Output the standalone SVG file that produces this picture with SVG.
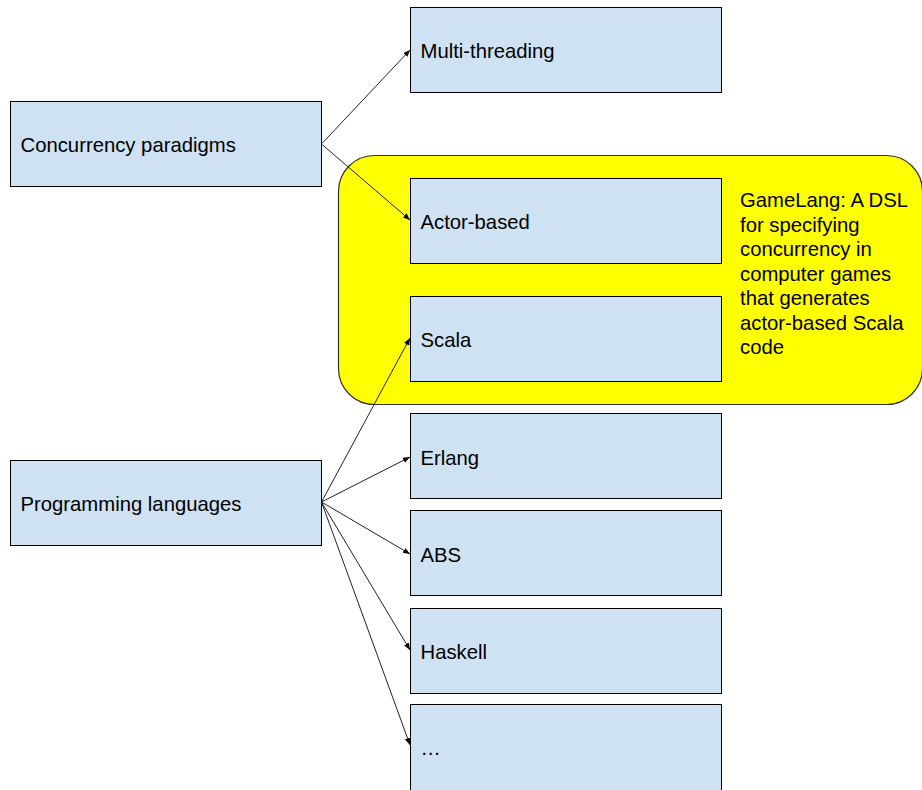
<svg xmlns="http://www.w3.org/2000/svg" width="922" height="790" viewBox="0 0 922 790">
<style>
.node rect{fill:#cfe2f3;stroke:#000;stroke-width:1}
text{font-family:"Liberation Sans",Arial,sans-serif;font-size:20.3px;fill:#000}
.conn line{stroke:#222;stroke-width:1;marker-end:url(#ah)}
</style>
<defs>
<marker id="ah" viewBox="0 0 10 10" refX="10" refY="5" markerWidth="7" markerHeight="7" markerUnits="userSpaceOnUse" orient="auto">
<path d="M0,1 L10,5 L0,9 z" fill="#000"/>
</marker>
</defs>
<rect width="922" height="790" fill="#fff"/>
<g id="group-gamelang">
<rect x="338.5" y="155.5" width="584" height="249" rx="36" ry="36" fill="#ff0" stroke="#333" stroke-width="1.2"/>
<text x="740" y="207">GameLang: A DSL</text>
<text x="740" y="231.5">for specifying</text>
<text x="740" y="256">concurrency in</text>
<text x="740" y="280.5">computer games</text>
<text x="740" y="305">that generates</text>
<text x="740" y="329.5">actor-based Scala</text>
<text x="740" y="354">code</text>
</g>
<g id="concurrency" class="node"><rect x="10.5" y="101.5" width="311" height="85"/><text x="20.5" y="151.5">Concurrency paradigms</text></g>
<g id="multithreading" class="node"><rect x="410.5" y="7.5" width="311" height="85"/><text x="420.5" y="57.5">Multi-threading</text></g>
<g id="actor" class="node"><rect x="410.5" y="178.5" width="311" height="85"/><text x="420.5" y="228.5">Actor-based</text></g>
<g id="scala" class="node"><rect x="410.5" y="296.5" width="311" height="85"/><text x="420.5" y="346.5">Scala</text></g>
<g id="programming" class="node"><rect x="10.5" y="460.5" width="311" height="85"/><text x="20.5" y="510.5">Programming languages</text></g>
<g id="erlang" class="node"><rect x="410.5" y="413.5" width="311" height="85"/><text x="420.5" y="464.5">Erlang</text></g>
<g id="abs" class="node"><rect x="410.5" y="510.5" width="311" height="85"/><text x="420.5" y="561.5">ABS</text></g>
<g id="haskell" class="node"><rect x="410.5" y="608.5" width="311" height="85"/><text x="420.5" y="659">Haskell</text></g>
<g id="more" class="node"><rect x="410.5" y="704.5" width="311" height="90"/><text x="420.5" y="755">…</text></g>
<g id="connectors" class="conn">
<line x1="321.5" y1="144" x2="410" y2="50"/>
<line x1="321.5" y1="144" x2="410" y2="220"/>
<line x1="321.5" y1="502" x2="410" y2="338"/>
<line x1="321.5" y1="502" x2="410" y2="457"/>
<line x1="321.5" y1="502" x2="410" y2="554"/>
<line x1="321.5" y1="502" x2="410" y2="650"/>
<line x1="321.5" y1="502" x2="410" y2="745"/>
</g>
</svg>
